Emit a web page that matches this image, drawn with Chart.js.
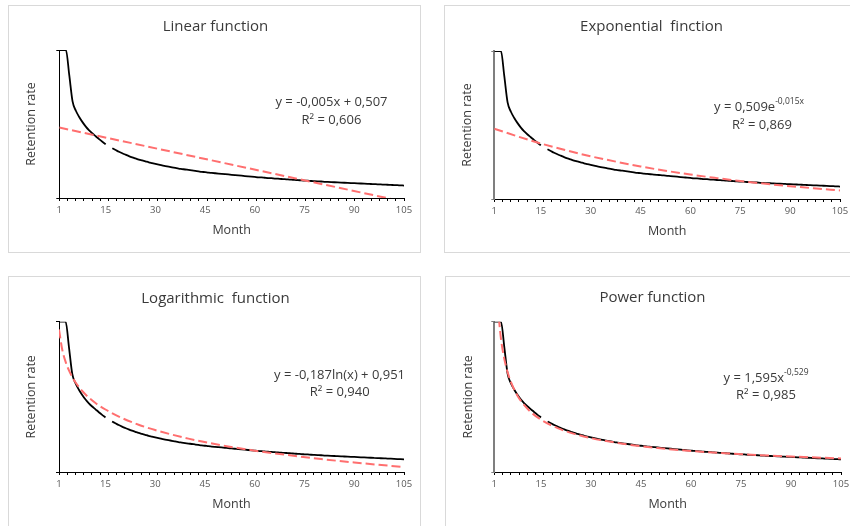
<!DOCTYPE html>
<html lang="en">
<head>
<meta charset="UTF-8">
<title>Retention rate trend lines</title>
<script src="https://cdn.jsdelivr.net/npm/chart.js"></script>
<style>
  body {
    margin: 0;
    width: 850px;
    height: 526px;
    overflow: hidden;
    position: relative;
    background: #fff;
  }
  .panel {
    position: absolute;
    width: 413px;
    height: 248px;
    border: 1px solid #d9d9d9;
    box-sizing: border-box;
    background: #fff;
  }
  .panel canvas {
    position: absolute;
    left: 0;
    top: 0;
  }
</style>
</head>
<body>
<div class="panel" style="left:8px; top:5px;"><canvas id="linear" width="411" height="246"></canvas></div>
<div class="panel" style="left:444px; top:5px;"><canvas id="exponential" width="411" height="246"></canvas></div>
<div class="panel" style="left:8px; top:276px; height:252px;"><canvas id="logarithmic" width="411" height="250"></canvas></div>
<div class="panel" style="left:445px; top:276px; height:252px;"><canvas id="power" width="411" height="250"></canvas></div>

<script>
// monthly retention rate, month 16 missing
const months = Array.from({ length: 105 }, (_, i) => i + 1);
const retention = [
  1.0, 1.0, 1.0, 0.84, 0.67, 0.61, 0.57, 0.537, 0.508, 0.484,
  0.464, 0.446, 0.428, 0.411, 0.395, null, 0.369, 0.358, 0.347, 0.337,
  0.328, 0.319, 0.311, 0.304, 0.297, 0.291, 0.285, 0.279, 0.274, 0.269,
  0.264, 0.259, 0.255, 0.251, 0.247, 0.243, 0.239, 0.236, 0.233, 0.230,
  0.227, 0.224, 0.221, 0.218, 0.216, 0.213, 0.211, 0.209, 0.207, 0.205,
  0.203, 0.201, 0.199, 0.197, 0.195, 0.193, 0.191, 0.189, 0.187, 0.185,
  0.183, 0.182, 0.180, 0.178, 0.177, 0.175, 0.174, 0.172, 0.171, 0.169,
  0.168, 0.166, 0.165, 0.163, 0.162, 0.161, 0.159, 0.158, 0.157, 0.156,
  0.154, 0.153, 0.152, 0.151, 0.150, 0.149, 0.148, 0.147, 0.146, 0.145,
  0.144, 0.143, 0.142, 0.141, 0.140, 0.139, 0.138, 0.137, 0.136, 0.135,
  0.134, 0.133, 0.132, 0.131, 0.130
];

// trend lines
const linearMonths = [1, 105];
const linearTrend = [0.502, 0.026];

const expMonths = [1, 8, 15, 22, 30, 38, 45, 52, 60, 68, 75, 82, 90, 97, 105];
const expTrend = [0.501, 0.452, 0.406, 0.366, 0.324, 0.288, 0.259, 0.233, 0.207, 0.184, 0.165, 0.149, 0.132, 0.119, 0.105];

const logMonths = [1, 2, 3, 4, 5, 6, 8, 10, 12, 15, 20, 25, 30, 40, 50, 60, 70, 80, 90, 105];
const logTrend = [0.951, 0.821, 0.746, 0.692, 0.650, 0.616, 0.562, 0.520, 0.486, 0.445, 0.391, 0.349, 0.315, 0.261, 0.219, 0.185, 0.157, 0.132, 0.110, 0.081];

const powerMonths = [2, 3, 4, 5, 6, 8, 10, 12, 15, 20, 25, 30, 40, 50, 60, 70, 80, 90, 105];
const powerTrend = [1.105, 0.892, 0.765, 0.680, 0.618, 0.531, 0.472, 0.428, 0.381, 0.327, 0.291, 0.264, 0.227, 0.201, 0.183, 0.169, 0.157, 0.148, 0.136];

// axes
const xTickLabels = [1, 15, 30, 45, 60, 75, 90, 105];
const yMin = 0.05;
const yMax = 1;

const FONT = '"Open Sans", "Noto Sans", sans-serif';
const TEXT = '#3a3a3a';

function points(xs, ys) {
  return xs.map((x, i) => ({ x: x, y: ys[i] }));
}

// small tick marks every ~2.5 months plus the labelled months
const minorTicks = [];
for (let k = 0; k <= 42; k++) minorTicks.push(Math.round((1 + k * 104 / 42) * 1000) / 1000);
const labelOnly = xTickLabels.filter(v => !minorTicks.includes(v));
const xTicks = minorTicks.concat(labelOnly).sort((a, b) => a - b);

// titles and fitted equations drawn over each panel
const panelText = {
  id: 'panelText',
  afterDraw(chart, args, o) {
    const ctx = chart.ctx;
    ctx.save();
    ctx.fillStyle = TEXT;
    ctx.textBaseline = 'middle';
    ctx.textAlign = 'center';
    ctx.font = '15px ' + FONT;
    ctx.fillText(o.title, 206.5, o.titleY);

    ctx.font = '13px ' + FONT;
    const baseW = ctx.measureText(o.eq).width;
    ctx.font = '8.5px ' + FONT;
    const supW = o.sup ? ctx.measureText(o.sup).width : 0;
    const x0 = o.eqX - (baseW + supW) / 2;
    ctx.textAlign = 'left';
    ctx.font = '13px ' + FONT;
    ctx.fillText(o.eq, x0, o.eqY);
    if (o.sup) {
      ctx.font = '8.5px ' + FONT;
      ctx.fillText(o.sup, x0 + baseW, o.eqY - 5);
    }
    ctx.textAlign = 'center';
    ctx.font = '13px ' + FONT;
    ctx.fillText(o.r2, o.r2X, o.r2Y);
    ctx.restore();
  }
};

function makeChart(id, cfg) {
  const box = cfg.box;
  new Chart(document.getElementById(id), {
    type: 'line',
    data: {
      datasets: [
        {
          data: points(cfg.trendX, cfg.trendY),
          borderColor: '#ff6f6f',
          borderWidth: 2,
          borderDash: [9, 4],
          pointRadius: 0,
          cubicInterpolationMode: 'monotone',
          clip: 0
        },
        {
          data: points(months, retention),
          borderColor: '#000000',
          borderWidth: 1.8,
          pointRadius: 0,
          cubicInterpolationMode: 'monotone',
          spanGaps: false
        }
      ]
    },
    options: {
      responsive: false,
      animation: false,
      events: [],
      layout: { padding: { left: 0, top: box.T, right: box.W - box.R, bottom: 0 } },
      plugins: {
        legend: { display: false },
        tooltip: { enabled: false },
        panelText: cfg.text
      },
      scales: {
        x: {
          type: 'linear',
          min: 1,
          max: 105,
          afterFit: s => { s.height = box.H - box.B; },
          afterBuildTicks: s => { s.ticks = xTicks.map(v => ({ value: v })); },
          ticks: {
            autoSkip: false,
            maxRotation: 0,
            padding: 4,
            color: '#595959',
            font: { family: FONT, size: 9.5 },
            callback: v => xTickLabels.includes(v) ? String(v) : ''
          },
          grid: {
            drawOnChartArea: false,
            tickLength: 3,
            color: '#000',
            tickColor: c => (c.tick && labelOnly.includes(c.tick.value)) ? 'rgba(0,0,0,0)' : '#000'
          },
          border: { color: '#000', width: 1 },
          title: {
            display: true,
            text: 'Month',
            color: TEXT,
            font: { family: FONT, size: 12.5 },
            padding: { top: 0, bottom: box.H - box.B - 32 - 7.5 }
          }
        },
        y: {
          min: yMin,
          max: yMax,
          afterFit: s => { s.width = box.L; },
          afterBuildTicks: s => { s.ticks = [{ value: yMin }, { value: yMax }]; },
          ticks: { display: false },
          grid: { drawOnChartArea: false, tickLength: 3, color: cfg.axisColor },
          border: { color: cfg.axisColor, width: cfg.axisWidth },
          title: {
            display: true,
            text: 'Retention rate',
            color: TEXT,
            font: { family: FONT, size: 12.5 },
            padding: { top: 15.2, bottom: 0 }
          }
        }
      }
    },
    plugins: [panelText]
  });
}

makeChart('linear', {
  trendX: linearMonths, trendY: linearTrend,
  axisColor: '#000', axisWidth: 1,
  box: { W: 411, H: 246, L: 50.3, R: 395, T: 44, B: 192 },
  text: { title: 'Linear function', titleY: 20.7,
          eq: 'y = -0,005x + 0,507', sup: '', eqX: 322.5, eqY: 96.5,
          r2: 'R² = 0,606', r2X: 322.5, r2Y: 114 }
});

makeChart('exponential', {
  trendX: expMonths, trendY: expTrend,
  axisColor: '#7f7f7f', axisWidth: 2,
  box: { W: 411, H: 246, L: 49.3, R: 395, T: 45, B: 193 },
  text: { title: 'Exponential  finction', titleY: 20.7,
          eq: 'y = 0,509e', sup: '-0,015x', eqX: 314, eqY: 101,
          r2: 'R² = 0,869', r2X: 317, r2Y: 119 }
});

makeChart('logarithmic', {
  trendX: logMonths, trendY: logTrend,
  axisColor: '#000', axisWidth: 1,
  box: { W: 411, H: 250, L: 50, R: 395, T: 44.7, B: 195 },
  text: { title: 'Logarithmic  function', titleY: 22,
          eq: 'y = -0,187ln(x) + 0,951', sup: '', eqX: 330.5, eqY: 98,
          r2: 'R² = 0,940', r2X: 330.7, r2Y: 115 }
});

makeChart('power', {
  trendX: powerMonths, trendY: powerTrend,
  axisColor: '#7f7f7f', axisWidth: 2,
  box: { W: 411, H: 250, L: 48.3, R: 395, T: 44.7, B: 195 },
  text: { title: 'Power function', titleY: 20.7,
          eq: 'y = 1,595x', sup: '-0,529', eqX: 320, eqY: 101,
          r2: 'R² = 0,985', r2X: 320, r2Y: 118 }
});
</script>
</body>
</html>
